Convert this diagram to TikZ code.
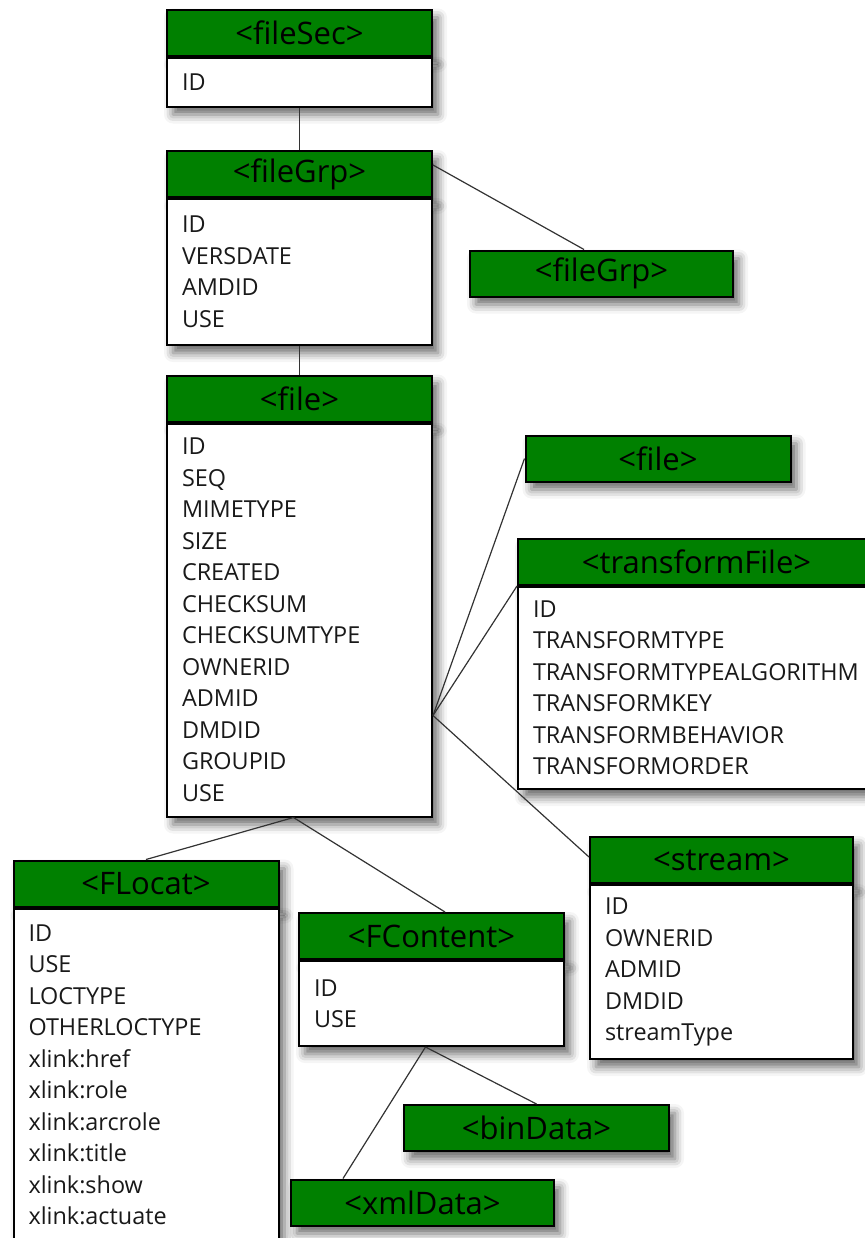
\documentclass[tikz,border=0pt]{standalone}
\usepackage{fontspec}
\setmainfont{Open Sans}
\usepackage{tikz}
\usetikzlibrary{positioning}
\usetikzlibrary{shadows.blur}
\definecolor{hdrgreen}{rgb}{0,0.5,0}

\tikzset{
  shade box/.style={blur shadow={shadow xshift=3pt, shadow yshift=-4pt, shadow blur radius=4.5pt, shadow opacity=60}},
  hdr/.style={draw, line width=1pt, fill=hdrgreen, shade box, minimum width=132.5pt, minimum height=23pt, inner sep=0pt, font=\fontsize{15.5}{17}\selectfont},
  attrs/.style={draw, line width=1pt, fill=white, shade box, anchor=north, align=left, inner xsep=7.5pt, text width=117.5pt, font=\fontsize{11.7}{15.75}\selectfont, text=black!90},
  link/.style={line width=0.6pt, black!80}
}

\begin{document}
\begin{tikzpicture}[x=0.5pt, y=-0.5pt]
  \useasboundingbox (0,0) rectangle (865,1238);

  % fileSec
  \node[hdr] (secHdr) at (299.5,32.5) {<fileSec>};
  \node[attrs, minimum height=24.5pt, below=0pt of secHdr] (secBody) {ID};

  % fileGrp
  \node[hdr] (grpHdr) at (299.5,174) {<fileGrp>};
  \node[attrs, minimum height=73pt, below=0pt of grpHdr] (grpBody) {ID\\VERSDATE\\AMDID\\USE};
  \node[hdr, minimum width=131.5pt] (grpRef) at (601.5,273.5) {<fileGrp>};

  % file
  \node[hdr] (fileHdr) at (299.5,398.5) {<file>};
  \node[attrs, minimum height=196.5pt, below=0pt of fileHdr] (fileBody)
    {ID\\SEQ\\MIMETYPE\\SIZE\\CREATED\\CHECKSUM\\CHECKSUMTYPE\\OWNERID\\ADMID\\DMDID\\GROUPID\\USE};
  \node[hdr] (fileRef) at (658,458.5) {<file>};

  % transformFile
  \node[hdr, minimum width=178.5pt] (tfHdr) at (696.5,562) {<transformFile>};
  \node[attrs, text width=163.5pt, minimum height=101pt, below=0pt of tfHdr] (tfBody)
    {ID\\TRANSFORMTYPE\\TRANSFORMTYPEALGORITHM\\TRANSFORMKEY\\TRANSFORMBEHAVIOR\\TRANSFORMORDER};

  % stream
  \node[hdr, minimum width=131.5pt] (strHdr) at (721.5,860) {<stream>};
  \node[attrs, text width=116.5pt, minimum height=87pt, below=0pt of strHdr] (strBody)
    {ID\\OWNERID\\ADMID\\DMDID\\streamType};

  % FLocat
  \node[hdr] (flocHdr) at (146,883.5) {<FLocat>};
  \node[attrs, minimum height=166.5pt, below=0pt of flocHdr] (flocBody)
    {ID\\USE\\LOCTYPE\\OTHERLOCTYPE\\xlink:href\\xlink:role\\xlink:arcrole\\xlink:title\\xlink:show\\xlink:actuate};

  % FContent
  \node[hdr] (fcHdr) at (431.5,936) {<FContent>};
  \node[attrs, minimum height=42.5pt, below=0pt of fcHdr] (fcBody) {ID\\USE};
  \node[hdr] (binData) at (536.5,1128) {<binData>};
  \node[hdr, minimum width=131.5pt] (xmlData) at (422.5,1202.5) {<xmlData>};

  % connectors
  \coordinate (fork) at ([yshift=-47.75pt]fileBody.east);
  \draw[link] (secBody.south) -- (grpHdr.north);
  \draw[link] ([yshift=4.5pt]grpHdr.east) -- ([xshift=-8.75pt]grpRef.north);
  \draw[link] (grpBody.south) -- (fileHdr.north);
  \draw[link] (fork) -- (fileRef.west);
  \draw[link] (fork) -- (tfHdr.south west);
  \draw[link] (fork) -- ([yshift=1.5pt]strHdr.west);
  \draw[link] ([xshift=-3pt]fileBody.south) -- (flocHdr.north);
  \draw[link] ([xshift=-3pt]fileBody.south) -- ([xshift=6.75pt]fcHdr.north);
  \draw[link] ([xshift=-3pt]fcBody.south) -- (binData.north);
  \draw[link] ([xshift=-3pt]fcBody.south) -- ([xshift=-39.75pt]xmlData.north);
\end{tikzpicture}
\end{document}
